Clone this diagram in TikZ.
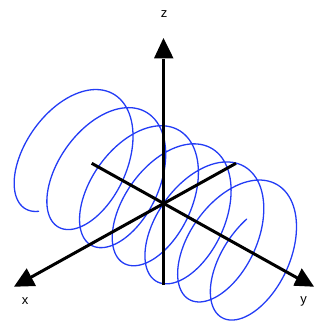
\documentclass[tikz,border=0pt]{standalone}
\usepackage{fontspec}
\setmainfont{Liberation Sans}
\definecolor{helixblue}{RGB}{35,60,245}
\tikzset{
  axisline/.style={line width=3pt, black},
  arrowtri/.style={fill=black, draw=none},
  helixline/.style={line width=1.3pt, helixblue, line join=round, line cap=round},
  axislabel/.style={anchor=base, inner sep=0pt, font=\fontsize{13}{15}\selectfont}
}
\begin{document}
\begin{tikzpicture}[x=1pt,y=-1pt]
\useasboundingbox (0,0) rectangle (320,322);
% helix
\draw[helixline] plot[domain=-20:20, samples=600, smooth, variable=\t]
  ({163.5 - 51*cos(\t r) + 5.204*\t}, {203.5 + 28.5*cos(\t r) - 58.9*sin(\t r) + 2.881*\t});
% axes coordinates
\coordinate (zbot) at (163.5,285);
\coordinate (zbase) at (163.5,59);
\coordinate (xback) at (236,163.3);
\coordinate (xbase) at (26,280);
\coordinate (yback) at (91.7,163.3);
\coordinate (ybase) at (301,280);
\draw[axisline] (zbot) -- (zbase);
\draw[axisline] (xback) -- (xbase);
\draw[axisline] (yback) -- (ybase);
% arrowheads
\fill[arrowtri] (163.5,38) -- (154,58.3) -- (173.5,58.3) -- cycle;
\fill[arrowtri] (14,286.7) -- (26.7,268.3) -- (36,286) -- cycle;
\fill[arrowtri] (314,286.7) -- (301.7,268.3) -- (293.3,285.7) -- cycle;
% labels
\node[axislabel] (zl) at (164,17.3) {z};
\node[axislabel] (xl) at (25,304.3) {x};
\node[axislabel] (yl) at (303.5,303.5) {y};
\end{tikzpicture}
\end{document}
